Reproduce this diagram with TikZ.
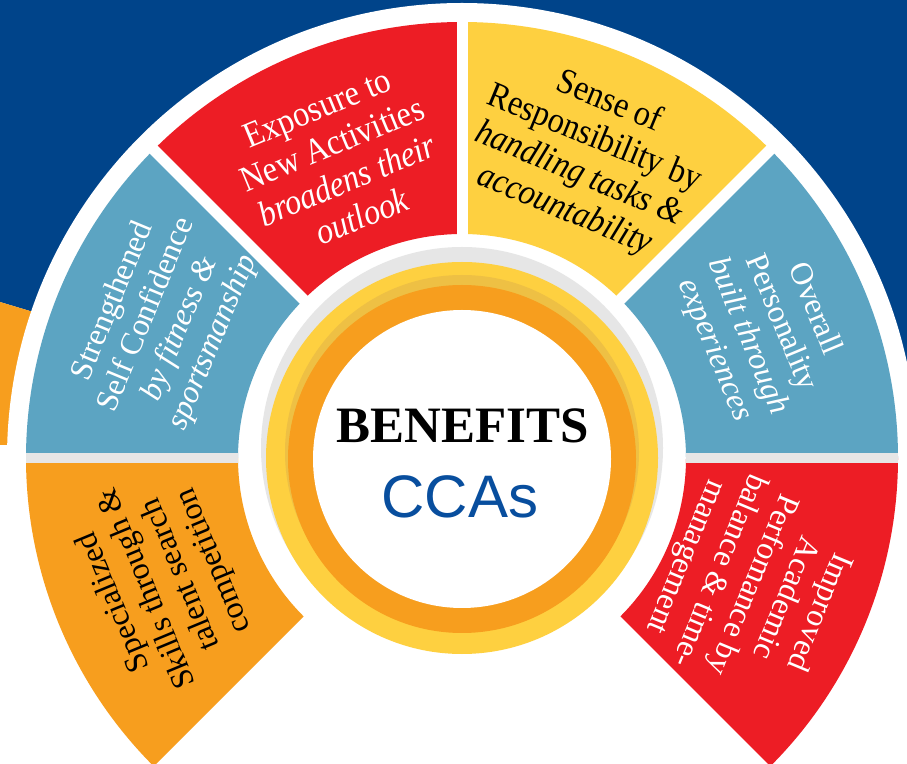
\documentclass[tikz,border=0pt]{standalone}
\usepackage{fontspec}
\setmainfont{Liberation Serif}
\newfontfamily\condserif[FakeStretch=0.9]{Liberation Serif}
\newfontfamily\arialf{Liberation Sans}
\definecolor{bgblue}{RGB}{0,68,138}
\definecolor{segred}{RGB}{237,29,37}
\definecolor{segyellow}{RGB}{254,208,64}
\definecolor{segblue}{RGB}{92,164,194}
\definecolor{segorange}{RGB}{247,158,30}
\definecolor{ringgold}{RGB}{238,192,68}
\definecolor{ringgray}{RGB}{230,230,230}
\definecolor{ccablue}{RGB}{8,78,158}
\tikzset{
  segtext/.style={align=center, inner sep=0pt, font=\condserif\fontsize{36}{39}\selectfont},
  segtextb/.style={align=center, inner sep=0pt, font=\fontsize{32}{36}\selectfont},
  gapline/.style={white, line width=11pt},
  grayline/.style={ringgray, line width=10pt}
}
\begin{document}
\begin{tikzpicture}[x=1pt,y=1pt]
\useasboundingbox (0,0) rectangle (907,763);
\fill[white] (0,0) rectangle (907,763);
% background
\fill[bgblue] (0,763) -- (907,763) -- (907,363) -- (60,443) -- (0,461) -- cycle;
\fill[segorange] (0,461) -- (60,443) -- (60,318) -- (0,318) -- cycle;
\coordinate (C) at (462,305);
\fill[white] (C) circle[radius=455];
% segments
\foreach \a/\col in {-45/segred, 0/segblue, 45/segyellow, 90/segred, 135/segblue, 180/segorange}{
  \fill[\col] ([shift={(\a:224)}]C) arc[start angle=\a, end angle=\a+45, radius=224]
    -- ([shift={(\a+45:436)}]C) arc[start angle=\a+45, end angle=\a, radius=436] -- cycle;
}
\foreach \a in {45,90,135}{
  \draw[gapline] ([shift={(\a:218)}]C) -- ([shift={(\a:442)}]C);
}
\draw[grayline] ([shift={(0:224)}]C) -- ([shift={(0:436)}]C);
\draw[grayline] ([shift={(180:224)}]C) -- ([shift={(180:436)}]C);
% central rings
\fill[ringgray] (462,315) circle[radius=201];
\fill[segyellow] (C) circle[radius=196];
\fill[ringgold] (462,311) circle[radius=177];
\fill[segorange] (462,304) circle[radius=174];
\fill[white] (462,304) circle[radius=149];
\node[font=\fontsize{51}{51}\selectfont\bfseries, anchor=base, inner sep=0pt] (benefits) at (463,320) {BENEFITS};
\node[font=\arialf\fontsize{60}{60}\selectfont, text=ccablue, anchor=base, inner sep=0pt] (ccas) at (460,245) {CCAs};
% segment texts
\node[segtext, text=white, rotate=22.5] (t1) at ([shift={(112.5:320)}]C)
  {Exposure to\\New Activities\\\itshape broadens their\\\itshape outlook};
\node[segtext, text=black, rotate=-22.5] (t2) at ([shift={(67.5:326)}]C)
  {Sense of\\Responsibility by\\\itshape handling tasks \&\\\itshape accountability};
\node[segtextb, text=white, rotate=67.5] (t3) at ([shift={(155.5:328)}]C)
  {Strengthened\\Self Confidence\\\itshape by fitness \&\\\itshape sportsmanship};
\node[segtextb, text=white, rotate=-67.5] (t4) at ([shift={(23:328)}]C)
  {Overall\\Personality\\\itshape built through\\\itshape experiences};
\node[segtextb, text=black, rotate=112.5] (t5) at ([shift={(202.5:322)}]C)
  {Specialized\\Skills through \&\\talent search\\competition};
\node[segtextb, text=white, rotate=-112.5] (t6) at ([shift={(-23.5:316)}]C)
  {Improved\\Academic\\Perfomance by\\balance \& time-\\management};
\end{tikzpicture}
\end{document}
